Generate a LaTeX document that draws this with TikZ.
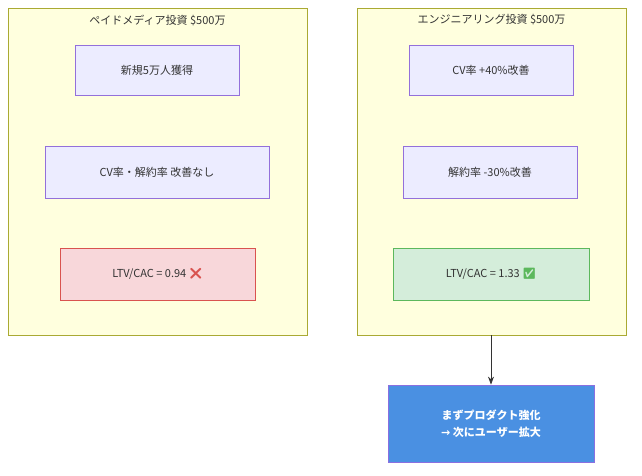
\documentclass[tikz,border=0pt]{standalone}
\usepackage{fontspec}
\setmainfont{Noto Sans CJK JP}
\newfontfamily\emo{Noto Emoji}
\usetikzlibrary{arrows.meta}
\definecolor{clf}{HTML}{FFFFDE}
\definecolor{cls}{HTML}{AAAA33}
\definecolor{ndf}{HTML}{ECECFF}
\definecolor{nds}{HTML}{9370DB}
\definecolor{rdf}{HTML}{F8D7DA}
\definecolor{rds}{HTML}{D9534F}
\definecolor{grf}{HTML}{D4EDDA}
\definecolor{grs}{HTML}{5CB85C}
\definecolor{blf}{HTML}{4A90E2}
\definecolor{bls}{HTML}{8A6FE0}
\definecolor{txt}{HTML}{333333}
\begin{document}
\begin{tikzpicture}[x=1pt,y=-1pt,
  clus/.style={draw=cls,fill=clf,line width=0.8pt},
  nd/.style={draw=nds,fill=ndf,line width=0.8pt,text=txt,font=\fontsize{11}{13}\selectfont,inner sep=0pt},
  lab/.style={text=txt,font=\fontsize{11}{13}\selectfont}]
\useasboundingbox (0,0) rectangle (642,476);
\fill[white] (0,0) rectangle (642,476);
\draw[clus] (8,8) rectangle (307,335);
\draw[clus] (357,8) rectangle (626,335);
\node[lab] (t1) at (157.5,20) {ペイドメディア投資 \$500万};
\node[lab] (t2) at (491.5,20) {エンジニアリング投資 \$500万};
\node[nd,minimum width=164,minimum height=50] (a1) at (157,70) {新規5万人獲得};
\node[nd,minimum width=224,minimum height=52] (a2) at (157,172) {CV率・解約率 改善なし};
\node[nd,draw=rds,fill=rdf,minimum width=195,minimum height=52] (a3) at (157.5,274) {LTV/CAC = 0.94 {\emo\textcolor{rds}{❌}}};
\node[nd,minimum width=164,minimum height=50] (b1) at (491,70) {CV率 +40\%改善};
\node[nd,minimum width=174,minimum height=52] (b2) at (490,172) {解約率 -30\%改善};
\node[nd,draw=grs,fill=grf,minimum width=196,minimum height=52] (b3) at (491,274) {LTV/CAC = 1.33 {\emo\textcolor{grs}{✅}}};
\coordinate (cb) at (491,335);
\node[nd,draw=bls,fill=blf,text=white,font=\fontsize{11}{17}\selectfont\bfseries,minimum width=206,minimum height=77,align=center] (c) at (491,423.5) {まずプロダクト強化\\{\fontspec{DejaVu Sans}→} 次にユーザー拡大};
\draw[-{Stealth[length=8pt,width=6pt]},draw=txt,line width=0.8pt] (cb) -- (c.north);
\end{tikzpicture}
\end{document}
